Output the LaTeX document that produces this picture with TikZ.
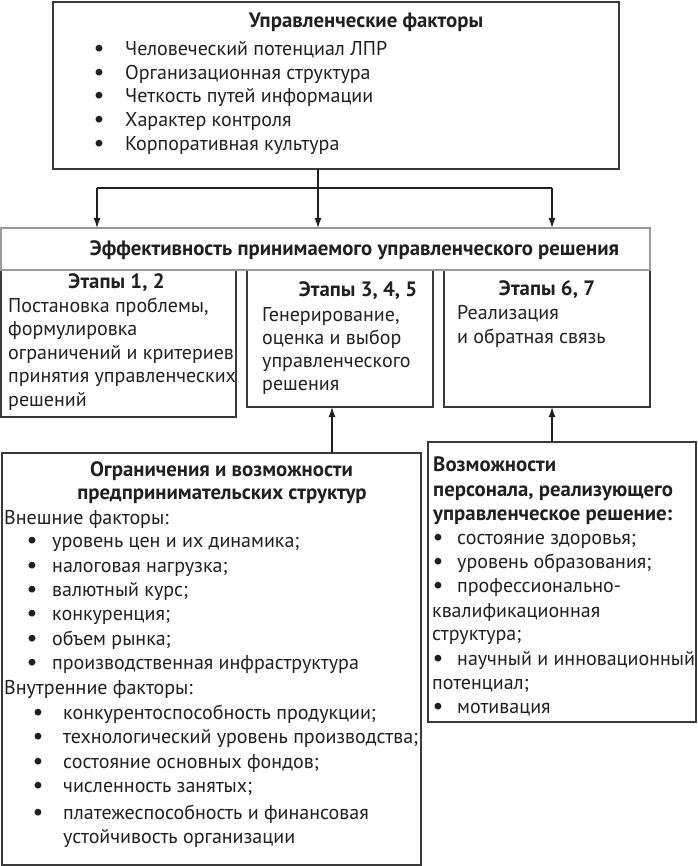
\documentclass[tikz,border=0pt]{standalone}
\usepackage{fontspec}
\setmainfont{PT Sans}
\usetikzlibrary{arrows.meta}
\definecolor{ink}{HTML}{231F20}
\definecolor{frame}{HTML}{3A3A3A}
\definecolor{lightframe}{HTML}{9A9A9A}

\begin{document}
\begin{tikzpicture}[x=1pt,y=-1pt,line join=miter,>={Latex[length=10pt,width=7pt]},
  every node/.style={inner sep=0pt,text=ink,font=\fontsize{20}{24}\selectfont},
  box/.style={draw=frame,line width=1.6pt,outer sep=0pt,anchor=north west},
  conn/.style={draw=ink,line width=1.3pt},
  head/.style={anchor=base,font=\fontsize{20.8}{24}\selectfont\bfseries},
  lhead/.style={anchor=base west,font=\fontsize{20.8}{24}\selectfont\bfseries},
  txt/.style={anchor=base west},
  dot/.style={anchor=base,font=\fontsize{22}{24}\selectfont\bfseries}]
  \useasboundingbox (0,0) rectangle (697,866);
  \node[box,minimum width=566pt,minimum height=167pt] (upr) at (53,2) {};
  \node[head] (uprT) at (366,28) {Управленческие факторы};
  \foreach \t [count=\i] in {Человеческий потенциал ЛПР,Организационная структура,Четкость путей информации,Характер контроля,Корпоративная культура}{
    \node[dot] (uprB\i) at (99,{31.75+23.75*\i}) {•};
    \node[txt] (upr\i) at (125,{31.75+23.75*\i}) {\t};
  }

  \node[box,minimum width=235pt,minimum height=147pt] (st1) at (1,270) {};
  \node[box,minimum width=186pt,minimum height=137pt] (st2) at (247,270) {};
  \node[box,minimum width=206pt,minimum height=137pt] (st3) at (444,270) {};
  \node[box,draw=lightframe,minimum width=649pt,minimum height=42pt] (eff) at (1,228) {};
  \node[head] (effT) at (354.5,255) {Эффективность принимаемого управленческого решения};

  \node[head] (st1T) at (116.5,288) {Этапы 1, 2};
  \foreach \t [count=\i] in {{Постановка проблемы,},формулировка,ограничений и критериев,принятия управленческих,решений}
    \node[txt] (st1\i) at (8,{288.5+23.5*\i}) {\t};
  \node[head] (st2T) at (358,296) {Этапы 3, 4, 5};
  \foreach \t [count=\i] in {{Генерирование,},оценка и выбор,управленческого,решения}
    \node[txt] (st2\i) at (262,{298+23*\i}) {\t};
  \node[head] (st3T) at (547,295) {Этапы 6, 7};
  \foreach \t [count=\i] in {Реализация,и обратная связь}
    \node[txt] (st3\i) at (457,{295+24*\i}) {\t};

  \coordinate (forkL) at (97,188);
  \coordinate (forkM) at (318,188);
  \coordinate (forkR) at (552,188);
  \draw[conn] (forkL) -- (forkR);
  \draw[conn,->] (upr.south -| forkM) -- (forkM |- eff.north);
  \draw[conn,->] (forkL) -- (forkL |- eff.north);
  \draw[conn,->] (forkR) -- (forkR |- eff.north);

  \node[box,minimum width=419pt,minimum height=412pt] (lim) at (2,453) {};
  \node[head] (limT1) at (221.5,476) {Ограничения и возможности};
  \node[head] (limT2) at (222,499) {предпринимательских структур};
  \node[txt] (ext) at (4,524) {Внешние факторы:};
  \foreach \t [count=\i] in {уровень цен и их динамика;,налоговая нагрузка;,валютный курс;,конкуренция;,объем рынка;,производственная инфраструктура}{
    \node[dot] (extB\i) at (32,{523.5+24.3*\i}) {•};
    \node[txt] (ext\i) at (52,{523.5+24.3*\i}) {\t};
  }
  \node[txt] (int) at (4,694) {Внутренние факторы:};
  \foreach \t [count=\i] in {конкурентоспособность продукции;,технологический уровень производства;,состояние основных фондов;,численность занятых;}{
    \node[dot] (intB\i) at (38,{694.5+24.6*\i}) {•};
    \node[txt] (int\i) at (63,{694.5+24.6*\i}) {\t};
  }
  \node[dot] (intB5) at (38,819) {•};
  \node[txt] (int5) at (63,819) {платежеспособность и финансовая};
  \node[txt] (int5b) at (63,843) {устойчивость организации};

  \node[box,minimum width=268pt,minimum height=280pt] (pers) at (428,442) {};
  \node[lhead] (persT1) at (433,471) {Возможности};
  \node[lhead] (persT2) at (433,496) {персонала, реализующего};
  \node[lhead] (persT3) at (433,520) {управленческое решение:};
  \node[dot] (persB1) at (438,544) {•};
  \node[txt] (pers1) at (457,544) {состояние здоровья;};
  \node[dot] (persB2) at (438,568) {•};
  \node[txt] (pers2) at (457,568) {уровень образования;};
  \node[dot] (persB3) at (438,592) {•};
  \node[txt] (pers3) at (457,592) {профессионально-};
  \node[txt] (pers3b) at (432,617) {квалификационная};
  \node[txt] (pers3c) at (432,640) {структура;};
  \node[dot] (persB4) at (438,665) {•};
  \node[txt] (pers4) at (457,665) {научный и инновационный};
  \node[txt] (pers4b) at (432,689) {потенциал;};
  \node[dot] (persB5) at (438,713) {•};
  \node[txt] (pers5) at (457,713) {мотивация};

  \coordinate (up2) at (332,440);
  \coordinate (up3) at (552,430);
  \draw[conn,->] (lim.north -| up2) -- (up2 |- st2.south);
  \draw[conn,->] (pers.north -| up3) -- (up3 |- st3.south);
\end{tikzpicture}
\end{document}
